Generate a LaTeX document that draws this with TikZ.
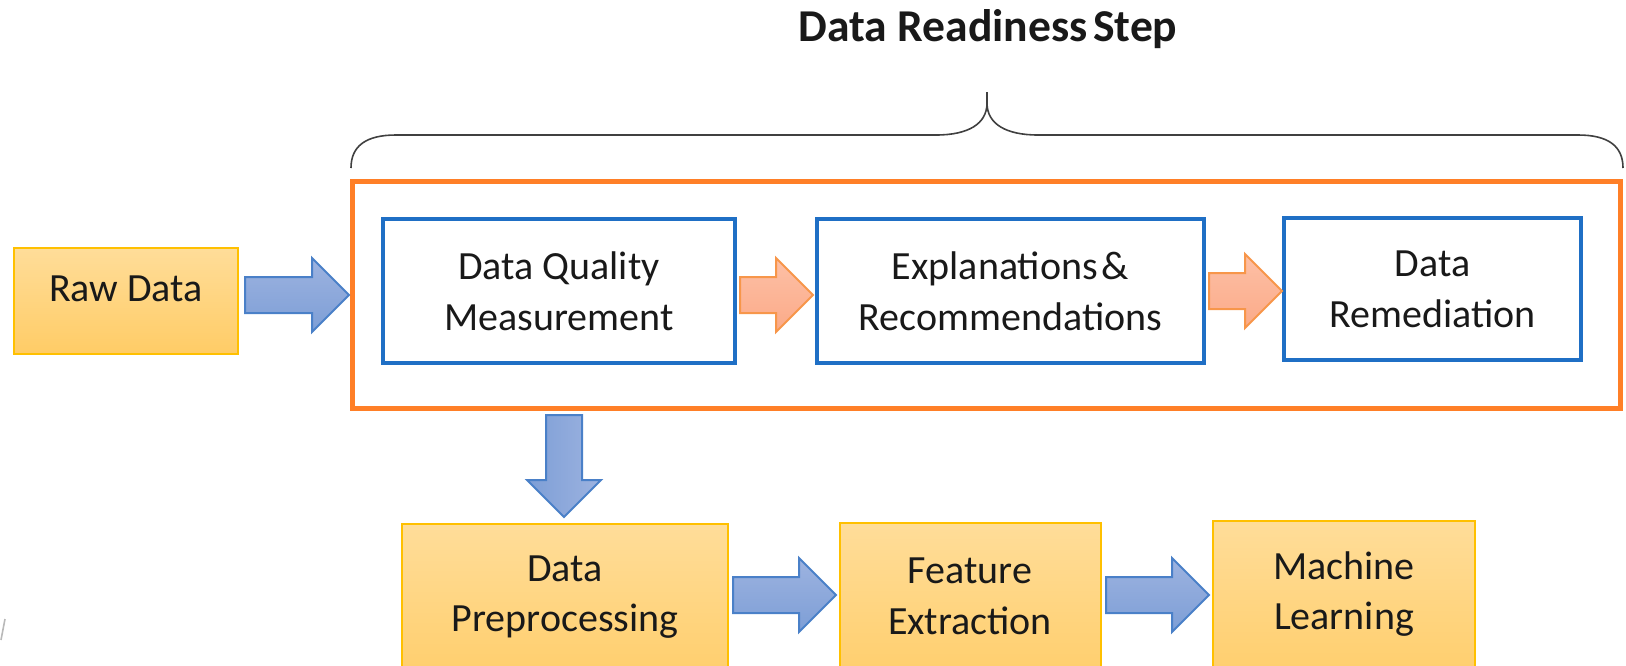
\documentclass[tikz,border=0pt]{standalone}
\usepackage{fontspec}
\setmainfont{Carlito}
\usetikzlibrary{fit}

\definecolor{goldedge}{HTML}{FFC000}
\definecolor{goldtop}{HTML}{FFDD99}
\definecolor{goldbot}{HTML}{FFCC66}
\definecolor{boxblue}{HTML}{1F6FC5}
\definecolor{frameorange}{HTML}{FF7F27}
\definecolor{arrowblueedge}{HTML}{4A80C8}
\definecolor{arrowbluetop}{HTML}{9DB3E0}
\definecolor{arrowbluebot}{HTML}{7D9ED6}
\definecolor{arroworangeedge}{HTML}{F7964A}
\definecolor{arroworangetop}{HTML}{FDC0A6}
\definecolor{arroworangebot}{HTML}{FBAA88}
\definecolor{bracegray}{HTML}{404040}

% right-pointing block arrow: style, tail x, tip x, centre y
\newcommand{\blockright}[4]{%
  \path[#1] (#2,#4-18) -- (#3-37,#4-18) -- (#3-37,#4-37) -- (#3,#4)
    -- (#3-37,#4+37) -- (#3-37,#4+18) -- (#2,#4+18) -- cycle;}
% down-pointing block arrow: style, centre x, tail y, tip y
\newcommand{\blockdown}[4]{%
  \path[#1] (#2-18,#3) -- (#2-18,#4-37) -- (#2-37,#4-37) -- (#2,#4)
    -- (#2+37,#4-37) -- (#2+18,#4-37) -- (#2+18,#3) -- cycle;}

\begin{document}
\begin{tikzpicture}[x=0.5pt, y=-0.5pt,
  every node/.style={font=\fontsize{20}{25.4}\selectfont, text=black!90},
  goldbox/.style={draw=goldedge, line width=1pt, top color=goldtop,
    bottom color=goldbot, inner sep=0pt},
  stagebox/.style={draw=boxblue, line width=1.75pt, fill=white,
    align=center, inner sep=0pt, minimum height=72pt},
  boxtext/.style={align=center, inner sep=0pt},
  bluearrow/.style={draw=arrowblueedge, line width=1pt, line join=miter,
    top color=arrowbluetop, bottom color=arrowbluebot},
  bluedownarrow/.style={draw=arrowblueedge, line width=1pt, line join=miter,
    left color=arrowbluebot, right color=arrowbluetop},
  orangearrow/.style={draw=arroworangeedge, line width=1pt, line join=miter,
    top color=arroworangetop, bottom color=arroworangebot},
  readyframe/.style={draw=frameorange, line width=2.5pt, inner sep=0pt},
  brace/.style={draw=bracegray, line width=0.8pt}
]
\useasboundingbox (0,0) rectangle (1626,665);

% title and curly brace
\node[anchor=base, font=\bfseries\fontsize{22.8}{27}\selectfont] (title)
  at (988,41) {Data Readiness\hspace{0.12em}Step};
\path[brace] (351,168) .. controls (351,146) and (366,135) .. (396,135)
  -- (936,135) .. controls (968,135) and (987,124) .. (987,103)
  .. controls (987,124) and (1006,135) .. (1038,135)
  -- (1578,135) .. controls (1608,135) and (1623,146) .. (1623,168);
\path[brace] (987,103) -- (987,92);

% data readiness frame
\node[readyframe, fit={(352,181) (1620,408)}] (ready) {};

% input
\node[goldbox, fit={(14,248) (238,354)}] (raw) {};
\node[boxtext] (rawtext) at (126,289) {Raw Data};

% readiness stages
\node[stagebox, minimum width=176pt] (dqm) at (559,291)
  {Data Quality\\Measurement};
\node[stagebox, minimum width=193.5pt] (expl) at (1010.5,291)
  {Explanations\hspace{0.1em}\&\\Recommendations};
\node[stagebox, minimum width=148.5pt, minimum height=71pt] (remed)
  at (1432.5,289) {Data\\Remediation};

% downstream pipeline (boxes run past the lower edge)
\node[goldbox, fit={(402,524) (728,700)}] (prep) {};
\node[goldbox, fit={(840,523) (1101,700)}] (feat) {};
\node[goldbox, fit={(1213,521) (1475,700)}] (ml) {};
\node[boxtext] (preptext) at (565,597) {Data\\Preprocessing};
\node[boxtext] (feattext) at (970,596) {Feature\\Extraction};
\node[boxtext] (mltext) at (1344,594) {Machine\\Learning};

% block arrows
\blockright{bluearrow}{245}{349}{295}
\blockright{orangearrow}{740}{813}{295}
\blockright{orangearrow}{1209}{1282}{291}
\blockdown{bluedownarrow}{564}{415}{517}
\blockright{bluearrow}{733}{836}{595}
\blockright{bluearrow}{1106}{1209}{595}

% stray mark at the lower left
\draw[gray!55, line width=0.8pt] (5,619) -- (1,640);
\end{tikzpicture}
\end{document}
